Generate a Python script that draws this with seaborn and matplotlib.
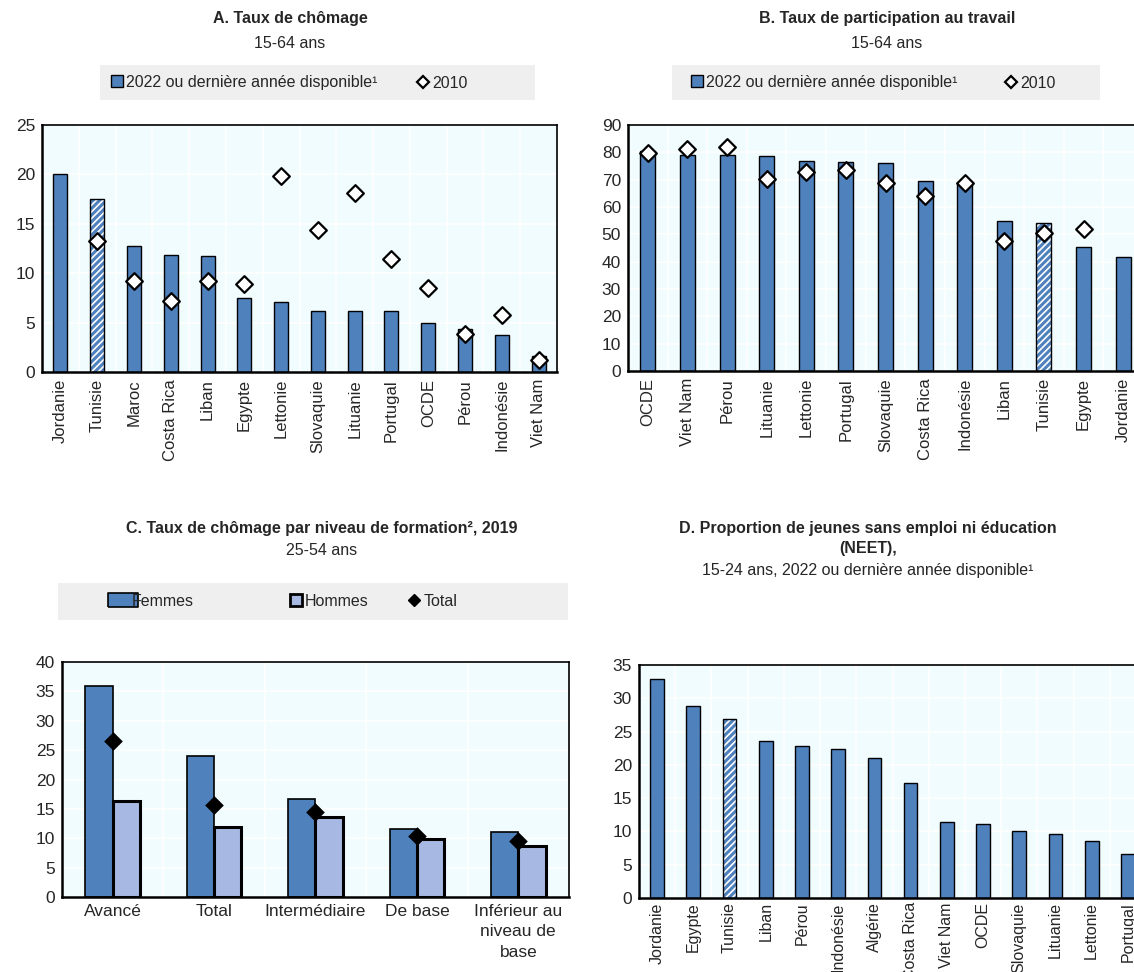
import numpy as np
import pandas as pd
import matplotlib
matplotlib.use("Agg")
import matplotlib.pyplot as plt
from matplotlib.lines import Line2D
from matplotlib.patches import Rectangle
import seaborn as sns

# Panel A: unemployment rate, 15-64
a_pays = ["Jordanie", "Tunisie", "Maroc", "Costa Rica", "Liban", "Egypte", "Lettonie",
          "Slovaquie", "Lituanie", "Portugal", "OCDE", "Pérou", "Indonésie", "Viet Nam"]
a_2022 = [20.0, 17.5, 12.8, 11.8, 11.7, 7.5, 7.1, 6.2, 6.2, 6.2, 5.0, 4.4, 3.7, 1.6]
a_2010 = [np.nan, 13.3, 9.2, 7.2, 9.2, 8.9, 19.8, 14.4, 18.1, 11.4, 8.5, 3.8, 5.8, 1.2]

# Panel B: labour participation, 15-64
b_pays = ["OCDE", "Viet Nam", "Pérou", "Lituanie", "Lettonie", "Portugal", "Slovaquie",
          "Costa Rica", "Indonésie", "Liban", "Tunisie", "Egypte", "Jordanie"]
b_2022 = [80.6, 79.0, 79.0, 78.6, 76.8, 76.4, 76.1, 69.6, 69.1, 54.7, 54.3, 45.3, 41.8]
b_2010 = [79.6, 81.1, 82.0, 70.2, 72.9, 73.7, 68.7, 64.2, 68.6, 47.6, 50.4, 51.8, np.nan]

# Panel C: unemployment by education level, 2019
c_niveaux = ["Avancé", "Total", "Intermédiaire", "De base", "Inférieur au\nniveau de\nbase"]
c_femmes = [35.9, 24.0, 16.7, 11.6, 11.0]
c_hommes = [16.4, 11.9, 13.7, 9.9, 8.6]
c_total = [26.6, 15.6, 14.4, 10.3, 9.6]

# Panel D: NEET, 15-24
d_pays = ["Jordanie", "Egypte", "Tunisie", "Liban", "Pérou", "Indonésie", "Algérie",
          "Costa Rica", "Viet Nam", "OCDE", "Slovaquie", "Lituanie", "Lettonie", "Portugal"]
d_neet = [32.95, 28.8, 26.85, 23.6, 22.85, 22.4, 21.0, 17.2, 11.35, 11.05, 10.0, 9.65, 8.55, 6.6]

BLUE = "#4F81BD"
LIGHT = "#A7B9E3"
BG = "#F0FCFE"
GREY = "#EFEFEF"
W, H = 1134, 972

sns.set_style("white")
plt.rcParams["font.family"] = ["Liberation Sans", "DejaVu Sans"]
plt.rcParams["hatch.linewidth"] = 2.2

fig = plt.figure(figsize=(W / 100, H / 100), dpi=100)


def box(x0, y0, x1, y1):
    return [x0 / W, 1 - y1 / H, (x1 - x0) / W, (y1 - y0) / H]


def style_axes(ax, n, ymax, step):
    ax.set_facecolor(BG)
    ax.set_xlim(-0.5, n - 0.5)
    ax.set_ylim(0, ymax)
    ax.set_yticks(np.arange(0, ymax + 0.1, step))
    ax.set_xticks(np.arange(n - 1) + 0.5, minor=True)
    ax.grid(False)
    ax.grid(True, which="major", axis="y", color="white", linewidth=1.2)
    ax.grid(True, which="minor", axis="x", color="white", linewidth=1.2)
    ax.set_axisbelow(True)
    ax.tick_params(axis="both", which="major", length=0, labelsize=12.5, pad=5)
    ax.tick_params(axis="x", which="minor", direction="in", length=5, width=1.2, color="black")
    for s in ax.spines.values():
        s.set_visible(True)
        s.set_color("black")
        s.set_linewidth(1.2)
    ax.spines["left"].set_linewidth(1.8)
    ax.spines["bottom"].set_linewidth(1.8)
    ax.set_xlabel("")
    ax.set_ylabel("")


def hatch_bar(ax, idx):
    p = ax.patches[idx]
    p.set_facecolor("white")
    p.set_edgecolor(BLUE)
    p.set_hatch("/////")
    p.set_linewidth(0)
    ax.add_patch(Rectangle(p.get_xy(), p.get_width(), p.get_height(), fill=False,
                           edgecolor="black", linewidth=1.0, zorder=p.get_zorder() + 0.1))


def country_panel(ax, pays, vals, old, ymax, step, lab_size=12):
    sns.barplot(x=pays, y=vals, order=pays, color=BLUE, width=0.38, edgecolor="black",
                linewidth=1.0, saturation=1, ax=ax)
    if old is not None:
        sns.stripplot(x=pays, y=old, order=pays, jitter=False, marker="D", color="white",
                      edgecolor="black", linewidth=1.6, size=8.5, ax=ax, zorder=5)
    style_axes(ax, len(pays), ymax, step)
    ax.set_xticks(range(len(pays)))
    ax.set_xticklabels(pays, rotation=90, fontsize=lab_size)
    hatch_bar(ax, pays.index("Tunisie"))


# --- Panel A
axA = fig.add_axes(box(42, 125, 557, 372))
country_panel(axA, a_pays, a_2022, a_2010, 25, 5)

# --- Panel B
axB = fig.add_axes(box(628, 125, 1143, 371))
country_panel(axB, b_pays, b_2022, b_2010, 90, 10)

# --- Panel C
axC = fig.add_axes(box(62, 662, 569, 897))
dfC = pd.DataFrame({
    "niveau": c_niveaux * 2,
    "sexe": ["Femmes"] * len(c_niveaux) + ["Hommes"] * len(c_niveaux),
    "val": c_femmes + c_hommes,
})
sns.barplot(data=dfC, x="niveau", y="val", hue="sexe", order=c_niveaux,
            palette=[BLUE, LIGHT], width=0.54, edgecolor="black", linewidth=1.2,
            saturation=1, legend=False, ax=axC)
for p in axC.patches:
    if p.get_facecolor()[0] > 0.5:
        p.set_linewidth(2.2)
sns.stripplot(x=c_niveaux, y=c_total, order=c_niveaux, jitter=False, marker="D",
              color="black", size=9.5, ax=axC, zorder=5)
style_axes(axC, len(c_niveaux), 40, 5)
axC.set_xticks(range(len(c_niveaux)))
axC.set_xticklabels(c_niveaux, fontsize=12.5, linespacing=1.45)

# --- Panel D
axD = fig.add_axes(box(639, 665, 1146, 898))
country_panel(axD, d_pays, d_neet, None, 35, 5, lab_size=11.5)
axD.tick_params(axis="x", which="major", pad=3)

# --- Titles
tkw = dict(ha="center", va="center", fontsize=11.5)
fig.text(290 / W, 1 - 18 / H, "A. Taux de chômage", weight="bold", **tkw)
fig.text(290 / W, 1 - 44 / H, "15-64 ans", **tkw)
fig.text(887 / W, 1 - 18 / H, "B. Taux de participation au travail", weight="bold", **tkw)
fig.text(887 / W, 1 - 44 / H, "15-64 ans", **tkw)
fig.text(322 / W, 1 - 528 / H, "C. Taux de chômage par niveau de formation², 2019",
         weight="bold", **tkw)
fig.text(322 / W, 1 - 550 / H, "25-54 ans", **tkw)
fig.text(868 / W, 1 - 528 / H, "D. Proportion de jeunes sans emploi ni éducation",
         weight="bold", **tkw)
fig.text(868 / W, 1 - 549 / H, "(NEET),", weight="bold", **tkw)
fig.text(868 / W, 1 - 571 / H, "15-24 ans, 2022 ou dernière année disponible¹", **tkw)

# --- Legend backgrounds
for (x0, y0, x1, y1) in [(100, 65, 535, 100), (672, 65, 1100, 100), (58, 583, 568, 620)]:
    fig.add_artist(Rectangle((x0 / W, 1 - y1 / H), (x1 - x0) / W, (y1 - y0) / H,
                             transform=fig.transFigure, facecolor=GREY, edgecolor="none", zorder=0))


def legend_item(handle, label, x, y):
    fig.legend([handle], [label], loc="center left", bbox_to_anchor=(x / W, 1 - y / H),
               frameon=False, borderpad=0, borderaxespad=0, handlelength=0.8,
               handletextpad=0.15, fontsize=11.5)


bar_h = Line2D([], [], marker="s", linestyle="none", markerfacecolor=BLUE,
               markeredgecolor="black", markersize=8.5)
dia_h = Line2D([], [], marker="D", linestyle="none", markerfacecolor="white",
               markeredgecolor="black", markeredgewidth=1.6, markersize=6)
lab_new = "2022 ou dernière année disponible¹"
legend_item(bar_h, lab_new, 111, 82)
legend_item(dia_h, "2010", 417, 83.5)
legend_item(bar_h, lab_new, 691, 82)
legend_item(dia_h, "2010", 1005, 83.5)

rect_marker = [(-2, -1), (2, -1), (2, 1), (-2, 1), (-2, -1)]
fem_h = Line2D([], [], marker=rect_marker, linestyle="none", markerfacecolor=BLUE,
               markeredgecolor="black", markeredgewidth=1.2, markersize=21)
hom_h = Line2D([], [], marker="s", linestyle="none", markerfacecolor=LIGHT,
               markeredgecolor="black", markeredgewidth=2, markersize=8)
tot_h = Line2D([], [], marker="D", linestyle="none", markerfacecolor="black",
               markeredgecolor="black", markersize=6)
legend_item(fem_h, "Femmes", 117, 601)
legend_item(hom_h, "Hommes", 290, 601)
legend_item(tot_h, "Total", 408, 601)

fig.savefig("out.png", dpi=100)
